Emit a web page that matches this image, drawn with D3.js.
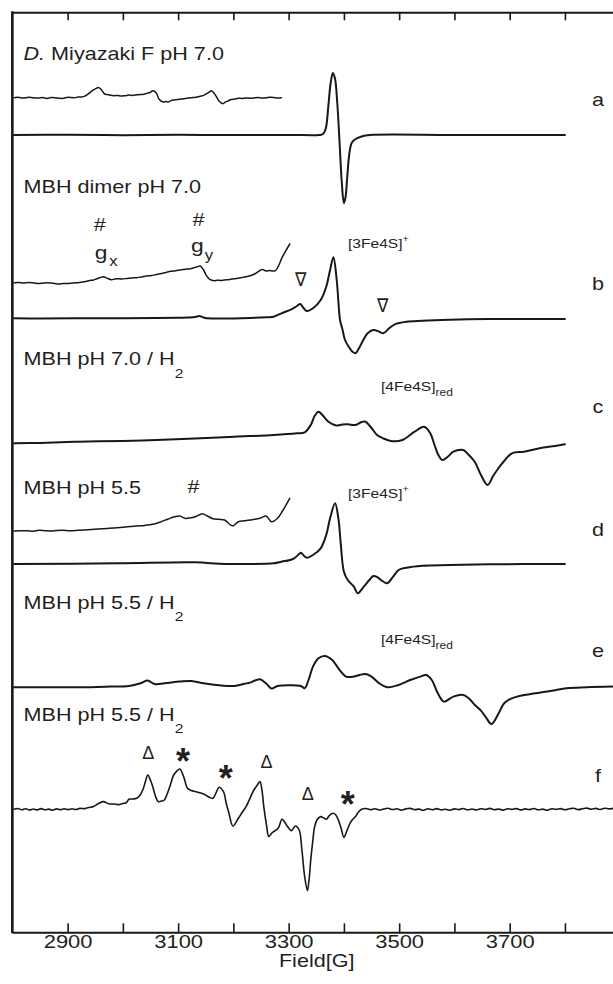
<!DOCTYPE html>
<html><head><meta charset="utf-8">
<script src="https://cdn.jsdelivr.net/npm/d3@7"></script>
<style>
body{margin:0;background:#fff}
svg{display:block}
text{font-family:"Liberation Sans",Arial,Helvetica,sans-serif;fill:#231f20}
</style>
</head><body>
<svg id="chart" width="613" height="984"></svg>
<script>
// ---------- data ----------
const fieldTicks = [2900,3000,3100,3200,3300,3400,3500,3600,3700,3800];
const tickLabels = [2900,3100,3300,3500,3700];
const xLabel = "Field[G]";
const traceNames = ["a","b","c","d","e","f"];

// [field (G), signal (a.u.)]
const traceA = [[2803,0],[2900,0.2],[3000,-0.2],[3100,0.2],[3200,-0.1],[3300,0.1],[3355,0],[3362,1],[3367,6],[3372,30],[3376,52],[3380,62],[3384,56],[3388,32],[3392,-6],[3396,-46],[3400,-68],[3403,-62],[3406,-42],[3410,-18],[3414,-8],[3420,-4.5],[3432,-1.5],[3447,0],[3600,0],[3800,0]];
const insetA = [[2803,0],[2810,0.4],[2820,-0.3],[2827,0.3],[2834,0.3],[2841,-0.2],[2848,-0.3],[2855,0.2],[2862,-0.7],[2870,0.1],[2877,0],[2884,-0.5],[2891,-0.7],[2898,0.2],[2905,0.3],[2912,-0.1],[2919,0.7],[2925,0.6],[2930,1.3],[2935,2.8],[2940,5],[2946,7.5],[2951,9],[2956,10.3],[2962,7.3],[2967,3.7],[2972,3.2],[2976,2.7],[2983,2.0],[2990,2.3],[2997,1.6],[3004,2],[3011,2.6],[3018,2.3],[3025,2.9],[3032,3.3],[3038,3.4],[3043,4.3],[3049,5.2],[3054,7],[3058,6.1],[3061,4.3],[3066,-1.7],[3073,-4.3],[3078,-3.8],[3082,-4.3],[3087,-2.9],[3092,-2.3],[3099,-1.9],[3107,-1.3],[3115,-0.6],[3124,0],[3132,0.4],[3142,1.7],[3147,2.6],[3152,4],[3157,5.8],[3160,7],[3164,5.2],[3167,3],[3171,-0.6],[3174,-3.3],[3178,-5.2],[3181,-6],[3186,-4.2],[3191,-3],[3196,-1.8],[3202,-1.3],[3209,-0.6],[3216,-0.7],[3223,-0.2],[3230,-0.6],[3237,-0.3],[3244,0.3],[3251,-0.2],[3259,0],[3266,0.5],[3273,0.3],[3280,-0.3],[3287,0]];
const traceB = [[2803,0.2],[2850,0],[2919,0.2],[3000,0.3],[3061,0.5],[3100,0.7],[3117,1],[3131,1.5],[3138,2.5],[3144,1.5],[3149,0.5],[3174,0],[3230,0.5],[3260,1.2],[3273,1.8],[3287,5.2],[3305,9.2],[3315,12.5],[3321,14.5],[3327,10.5],[3333,7.5],[3344,10.2],[3358,18.5],[3368,31.8],[3375,48.5],[3381,61.2],[3387,38.5],[3393,-1.5],[3397,-10],[3402,-21.5],[3409,-28.5],[3415,-33],[3421,-34.8],[3427,-30],[3432,-24.8],[3443,-14.8],[3453,-11.5],[3464,-13.2],[3471,-14.8],[3482,-9.8],[3492,-5.8],[3513,-3.2],[3542,-2.2],[3591,-1.2],[3662,-0.5],[3800,-0.5]];
const insetB = [[2803,0],[2812,0.3],[2820,-0.3],[2830,0.2],[2840,-0.4],[2848,-0.7],[2858,-0.2],[2870,-0.3],[2877,-0.9],[2884,-1.3],[2892,-0.8],[2901,-0.7],[2910,-0.2],[2919,0],[2926,0.6],[2933,1.3],[2940,2.2],[2947,2.7],[2953,4],[2958,5],[2965,6],[2972,4.3],[2979,3],[2985,3.6],[2990,4],[2998,3.7],[3008,4.3],[3016,4.8],[3025,5],[3034,5.8],[3043,6.7],[3052,7.2],[3061,8.3],[3070,9.2],[3078,10.3],[3087,11.5],[3096,12],[3103,12.8],[3110,13.3],[3117,13.6],[3124,14.3],[3130,15.2],[3135,16],[3140,16.7],[3146,12.7],[3151,7.3],[3158,3],[3165,2],[3171,2.4],[3177,2.3],[3184,2.8],[3191,3],[3198,3.6],[3206,4.3],[3213,4.9],[3220,5.7],[3227,6.4],[3234,7.7],[3240,9.2],[3245,11],[3252,13.3],[3259,11.7],[3266,12.3],[3271,11.6],[3276,12],[3281,16],[3288,25],[3295,32],[3302,38.7]];
const traceC = [[2803,0],[2850,0.4],[2919,1.6],[3000,2.4],[3061,3.3],[3130,4.8],[3202,6.6],[3273,8.3],[3315,10],[3329,11],[3340,18.3],[3347,27.3],[3354,31.6],[3361,28.3],[3372,21.6],[3386,17.8],[3397,18.8],[3407,19],[3421,18.3],[3432,21.3],[3439,21.6],[3450,15.3],[3460,8.3],[3471,5],[3485,2.3],[3506,3.3],[3528,11.6],[3545,16.6],[3556,10.3],[3564,-1.7],[3571,-11.7],[3578,-16.7],[3588,-13.4],[3598,-8.4],[3616,-6.7],[3626,-11.7],[3637,-18.7],[3648,-31.7],[3660,-41.7],[3670,-32.7],[3680,-24.7],[3690,-17.7],[3704,-10],[3726,-8.4],[3754,-5],[3782,-2.7],[3800,-1]];
const traceD = [[2803,0],[2990,0.7],[3131,1.7],[3174,0.3],[3202,0],[3273,0.7],[3287,2.3],[3308,5],[3319,10],[3322,11.3],[3328,8],[3333,6.3],[3344,9],[3358,15.7],[3368,29],[3375,45.7],[3384,60.7],[3390,45.7],[3394,22.3],[3400,-7.7],[3407,-16],[3418,-22.7],[3425,-29.3],[3436,-22.7],[3446,-16],[3453,-12],[3460,-13],[3467,-16],[3478,-19.3],[3489,-12.7],[3499,-6],[3513,-3.7],[3542,-1.7],[3591,-1],[3662,-0.3],[3800,0]];
const insetD = [[2803,0],[2815,0.3],[2827,0.3],[2838,-0.2],[2848,0.7],[2860,0.2],[2870,0],[2880,0.5],[2891,0.7],[2905,0.3],[2919,0.7],[2937,1.3],[2955,2],[2972,2.6],[2990,3.3],[3008,4.2],[3025,5],[3040,5.6],[3054,6.7],[3068,9],[3082,12],[3092,14],[3103,15],[3112,12.7],[3121,13],[3131,14.3],[3144,17.3],[3153,15],[3163,12.3],[3174,11.7],[3184,11],[3195,6],[3200,5.3],[3209,9.3],[3220,10.2],[3230,11],[3248,12.7],[3259,15],[3269,9.3],[3280,12.7],[3290,21],[3302,32.7]];
const traceE = [[2803,0],[2848,0],[2919,0],[2976,0.7],[3011,1.3],[3032,4],[3045,6.7],[3057,3.3],[3075,4],[3103,5.7],[3124,6.3],[3146,4],[3174,2],[3202,1.3],[3220,3.5],[3230,4.7],[3248,8],[3259,4],[3269,-1.3],[3280,1.3],[3301,2],[3322,1.3],[3329,-1],[3336,7.3],[3344,20.7],[3354,29],[3365,31.3],[3379,27.3],[3390,19],[3404,10.7],[3418,10.7],[3428,12.3],[3439,13.3],[3450,10.7],[3464,4],[3478,0],[3499,2.3],[3520,7.3],[3538,10.7],[3549,12.3],[3559,7.3],[3570,-6],[3581,-14.3],[3598,-9.3],[3616,-7.7],[3626,-11],[3637,-17.7],[3648,-23.3],[3657,-30],[3667,-36.7],[3680,-26],[3690,-16],[3704,-11],[3726,-7.7],[3768,-4.3],[3803,-1],[3839,0],[3887,0.7]];
const traceF = [[2803,0],[2810,0.8],[2817,-0.5],[2824,0.6],[2831,-0.8],[2838,0.3],[2845,-0.6],[2852,0.7],[2859,-0.4],[2866,0.2],[2873,-0.9],[2880,0.4],[2887,-0.5],[2894,0.6],[2901,-0.3],[2908,0.5],[2915,-0.2],[2922,0.9],[2930,0.7],[2938,1.8],[2947,2.7],[2956,5.8],[2965,7.7],[2974,5.6],[2983,5.3],[2992,4.7],[3000,5.8],[3006,6.5],[3011,10],[3018,10.3],[3025,11],[3031,14],[3036,19.3],[3041,28],[3045,34.3],[3050,29],[3054,22.7],[3059,13],[3064,7.7],[3070,8.2],[3075,9.3],[3080,15],[3085,22.7],[3092,34.3],[3098,38.5],[3103,40.3],[3110,32.7],[3117,21],[3124,18.8],[3131,17.7],[3139,16.5],[3146,15.3],[3155,12.5],[3163,11],[3169,17],[3174,22],[3182,17.7],[3187,6],[3192,-4],[3199,-16.7],[3209,-9],[3216,-3],[3223,2.7],[3230,11],[3237,19.3],[3243,24],[3248,27.7],[3252,18],[3255,2.7],[3260,-16],[3264,-27.3],[3269,-24],[3273,-22.3],[3281,-19],[3288,-10],[3293,-13],[3298,-17.3],[3305,-21.3],[3312,-16.7],[3319,-20.7],[3324,-40.7],[3329,-67.3],[3334,-81.3],[3337,-70],[3340,-50.7],[3344,-30],[3347,-17.3],[3352,-10],[3358,-7.3],[3363,-8.5],[3368,-10],[3374,-6],[3380,-4],[3385,-5.5],[3390,-10.7],[3395,-19],[3400,-28],[3405,-22],[3411,-14],[3416,-10],[3421,-7.3],[3426,-3],[3432,0],[3440,0.8],[3448,-0.4],[3456,0.6],[3464,-0.7],[3472,0.3],[3480,1.0],[3488,-0.2],[3496,0.5],[3504,-0.8],[3512,0.4],[3520,0.9],[3528,-0.3],[3536,0.2],[3544,-0.9],[3552,0.5],[3560,-0.4],[3568,0.7],[3576,-0.6],[3584,0.1],[3592,-1.0],[3600,0.4],[3608,-0.3],[3616,0.8],[3624,-0.5],[3632,0.3],[3640,-0.7],[3648,0.6],[3656,-0.2],[3664,0.9],[3672,-0.4],[3680,0.2],[3688,-0.8],[3696,0.5],[3704,-0.1],[3712,0.7],[3720,-0.6],[3728,0.4],[3736,-0.3],[3744,0.8],[3752,-0.5],[3760,0.2],[3768,-0.9],[3776,0.6],[3784,-0.2],[3792,0.7],[3800,-0.4],[3808,0.5],[3816,1.0],[3824,-0.3],[3832,0.6],[3840,1.2],[3848,0.1],[3856,0.9],[3864,-0.2],[3872,1.1],[3880,0.4],[3887,1.0]];

// ---------- layout ----------
const plotTop = 12.3, plotBottom = 932.3;
const svg = d3.select("#chart");
const x = d3.scaleLinear().domain([2800, 3900]).range([12.35, 620.2]);

const series = [
  {data: traceA, base: 135,   width: 2.0},
  {data: insetA, base: 97.7,  width: 1.5},
  {data: traceB, base: 318.5, width: 2.0},
  {data: insetB, base: 282.7, width: 1.5},
  {data: traceC, base: 443.3, width: 2.0},
  {data: traceD, base: 564,   width: 2.0},
  {data: insetD, base: 531,   width: 1.5},
  {data: traceE, base: 687.3, width: 2.0},
  {data: traceF, base: 809.3, width: 1.6}
];

series.forEach(s => {
  const y = d3.scaleLinear().domain([0, 100]).range([s.base, s.base - 100]);
  const line = d3.line().x(d => x(d[0])).y(d => y(d[1])).curve(d3.curveCatmullRom.alpha(0.5));
  svg.append("path").datum(s.data)
    .attr("d", line).attr("fill", "none").attr("stroke", "#1a1718")
    .attr("stroke-width", s.width).attr("stroke-linejoin", "round").attr("stroke-linecap", "round");
});

// ---------- axes ----------
const bottomAxis = svg.append("g").attr("transform", `translate(0,${plotBottom})`)
  .call(d3.axisBottom(x).tickValues(fieldTicks).tickSizeInner(-9).tickSizeOuter(0).tickPadding(3)
    .tickFormat(d => tickLabels.includes(d) ? String(d) : ""));
bottomAxis.select(".domain").attr("stroke", "#1a1718").attr("stroke-width", 2);
bottomAxis.selectAll(".tick line").attr("stroke", "#1a1718").attr("stroke-width", 1.6);
bottomAxis.selectAll(".tick text").attr("font-size", 18).attr("fill", "#231f20")
  .attr("font-family", '"Liberation Sans",Arial,sans-serif').attr("transform", "scale(1.22,1)");

const topAxis = svg.append("g").attr("transform", `translate(0,${plotTop})`)
  .call(d3.axisTop(x).tickValues(fieldTicks).tickSizeInner(-8).tickSizeOuter(0).tickFormat(""));
topAxis.select(".domain").attr("stroke", "#1a1718").attr("stroke-width", 2);
topAxis.selectAll(".tick line").attr("stroke", "#1a1718").attr("stroke-width", 1.6);

svg.append("line").attr("x1", x(2800)).attr("x2", x(2800))
  .attr("y1", plotTop - 1).attr("y2", plotBottom + 1)
  .attr("stroke", "#1a1718").attr("stroke-width", 2.6);

// ---------- text ----------
function addText(px, py, spans, o = {}) {
  const size = o.size || 18, sx = o.sx || 1.2;
  const t = svg.append("text")
    .attr("transform", `translate(${px},${py}) scale(${sx},1)`)
    .attr("font-size", size).attr("text-anchor", o.anchor || "start");
  if (o.family) t.attr("font-family", o.family);
  if (o.weight) t.attr("font-weight", o.weight);
  spans.forEach(s => {
    if (typeof s === "string") t.append("tspan").text(s);
    else {
      const ts = t.append("tspan").text(s.t);
      if (s.size) ts.attr("font-size", s.size);
      if (s.dy) ts.attr("dy", s.dy);
      if (s.style) ts.attr("font-style", s.style);
      if (s.dx) ts.attr("dx", s.dx);
    }
  });
  return t;
}

addText(23.5, 60, [{t: "D.", style: "italic"}, " Miyazaki F pH 7.0"]);
addText(23.5, 193, ["MBH dimer pH 7.0"]);
addText(23.5, 365, ["MBH pH 7.0 / H", {t: "2", size: 13, dy: 13}]);
addText(23.5, 494, ["MBH pH 5.5"]);
addText(23.5, 609, ["MBH pH 5.5 / H", {t: "2", size: 13, dy: 12}]);
addText(23.5, 721, ["MBH pH 5.5 / H", {t: "2", size: 13, dy: 12}]);

// trace letters
const letterY = [106, 290, 413, 536, 657, 782];
traceNames.forEach((n, i) => addText(598, letterY[i], [n], {anchor: "middle"}));

// annotations b
addText(99.7, 231, ["#"], {anchor: "middle"});
addText(101, 259, ["g"], {anchor: "middle", size: 19});
addText(113.5, 266, ["x"], {anchor: "middle", size: 14});
addText(198.6, 226, ["#"], {anchor: "middle"});
addText(197.4, 252, ["g"], {anchor: "middle", size: 19});
addText(209, 260, ["y"], {anchor: "middle", size: 14});
addText(348, 248, ["[3Fe4S]", {t: "+", size: 9, dy: -6}], {size: 13});
const nablaFont = '"DejaVu Sans","DejaVu Serif",sans-serif';
addText(301, 286, ["\u2207"], {anchor: "middle", size: 19, family: nablaFont, sx: 0.9});
addText(383, 311.5, ["\u2207"], {anchor: "middle", size: 19, family: nablaFont, sx: 0.9});

// c
addText(381, 391, ["[4Fe4S]", {t: "red", size: 10, dy: 5}], {size: 13});
// d
addText(193.5, 493, ["#"], {anchor: "middle"});
addText(348, 498, ["[3Fe4S]", {t: "+", size: 9, dy: -6}], {size: 13});
// e
addText(381, 644, ["[4Fe4S]", {t: "red", size: 10, dy: 5}], {size: 13});

// f markers
const serif = '"Liberation Serif","DejaVu Serif",serif';
addText(148.3, 759, ["\u0394"], {anchor: "middle", size: 18, family: serif, sx: 1.0});
addText(266.6, 767.5, ["\u0394"], {anchor: "middle", size: 18, family: serif, sx: 1.0});
addText(307.8, 800, ["\u0394"], {anchor: "middle", size: 18, family: serif, sx: 1.0});
addText(183, 773.5, ["*"], {anchor: "middle", size: 36, weight: "bold", sx: 1.0});
addText(225.8, 791, ["*"], {anchor: "middle", size: 36, weight: "bold", sx: 1.0});
addText(347.8, 817, ["*"], {anchor: "middle", size: 36, weight: "bold", sx: 1.0});

// x label
addText(316.7, 967, [xLabel], {anchor: "middle", size: 18});
</script>
</body></html>
